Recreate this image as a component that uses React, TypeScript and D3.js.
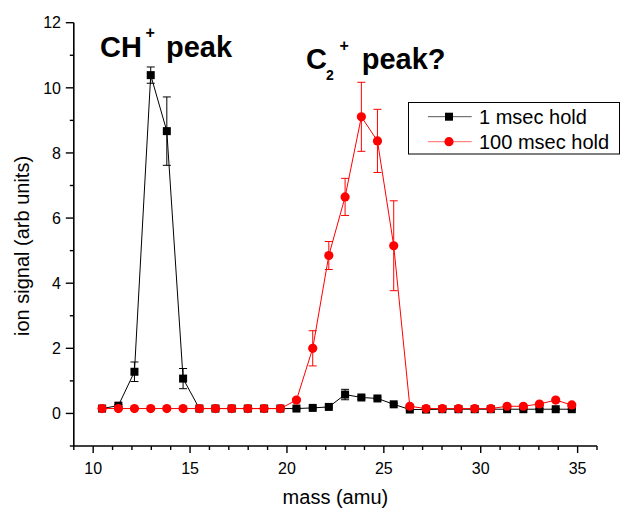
import React from "react";
import * as d3 from "d3";

const masses = [10.46, 11.30, 12.13, 12.97, 13.80, 14.64, 15.48, 16.31, 17.15, 17.98, 18.82, 19.66, 20.49, 21.33, 22.16, 23.00, 23.84, 24.67, 25.51, 26.34, 27.18, 28.02, 28.85, 29.69, 30.52, 31.36, 32.20, 33.03, 33.87, 34.70];
const hold1 = [0.15, 0.24, 1.28, 10.39, 8.67, 1.07, 0.15, 0.15, 0.15, 0.15, 0.15, 0.15, 0.15, 0.17, 0.20, 0.58, 0.49, 0.46, 0.28, 0.12, 0.12, 0.13, 0.13, 0.13, 0.13, 0.13, 0.13, 0.13, 0.13, 0.13];
const hold1Err = [0.02, 0.03, 0.30, 0.25, 1.05, 0.31, 0.02, 0.02, 0.02, 0.02, 0.02, 0.02, 0.02, 0.03, 0.03, 0.16, 0.05, 0.04, 0.03, 0.02, 0.02, 0.02, 0.02, 0.02, 0.02, 0.02, 0.02, 0.02, 0.02, 0.02];
const hold100 = [0.15, 0.15, 0.15, 0.15, 0.15, 0.15, 0.15, 0.15, 0.15, 0.15, 0.15, 0.15, 0.41, 2.00, 4.85, 6.65, 9.11, 8.37, 5.15, 0.22, 0.15, 0.15, 0.15, 0.15, 0.15, 0.22, 0.22, 0.29, 0.41, 0.26];
const hold100Err = [0.02, 0.02, 0.02, 0.02, 0.02, 0.02, 0.02, 0.02, 0.02, 0.02, 0.02, 0.02, 0.05, 0.54, 0.43, 0.57, 1.06, 0.97, 1.38, 0.04, 0.02, 0.02, 0.02, 0.02, 0.02, 0.03, 0.03, 0.04, 0.05, 0.04];
const xTicks = [10, 15, 20, 25, 30, 35];
const yTicks = [0, 2, 4, 6, 8, 10, 12];
const seriesNames = ["1 msec hold", "100 msec hold"];
const seriesColors = ["#000000", "#ff0000"];
const legendLineColors = ["#555555", "#ff6a6a"];

const W = 621, H = 511;
const FONT = "'Liberation Sans', Arial, sans-serif";

export default function App() {
  const x = d3.scaleLinear().domain([9, 36]).range([73.8, 597]);
  const y = d3.scaleLinear().domain([-1, 12]).range([446, 22.7]);
  const line = d3.line<[number, number]>().x(d => x(d[0])).y(d => y(d[1]));
  const s1 = masses.map((m, i) => [m, hold1[i]] as [number, number]);
  const s2 = masses.map((m, i) => [m, hold100[i]] as [number, number]);
  const minorX = d3.range(9, 37, 1);
  const minorY = d3.range(-1, 13, 1);
  const cap = 4;

  const errBars = (vals: number[], errs: number[], color: string) =>
    masses.map((m, i) => {
      const cx = x(m), t = y(vals[i] + errs[i]), b = y(vals[i] - errs[i]);
      return (
        <g key={i} stroke={color} strokeWidth={1}>
          <line x1={cx} x2={cx} y1={t} y2={b} />
          <line x1={cx - cap} x2={cx + cap} y1={t} y2={t} />
          <line x1={cx - cap} x2={cx + cap} y1={b} y2={b} />
        </g>
      );
    });

  return (
    <svg width={W} height={H} style={{ position: "absolute", left: 0, top: 0, background: "#fff" }} fontFamily={FONT}>
      <rect width={W} height={H} fill="#fff" />
      {/* series 1 */}
      <path d={line(s1) || ""} fill="none" stroke={seriesColors[0]} strokeWidth={1} />
      {errBars(hold1, hold1Err, seriesColors[0])}
      {s1.map((d, i) => (
        <rect key={i} x={x(d[0]) - 4} y={y(d[1]) - 4} width={8} height={8} fill={seriesColors[0]} />
      ))}
      {/* series 2 */}
      <path d={line(s2) || ""} fill="none" stroke={seriesColors[1]} strokeWidth={1} />
      {errBars(hold100, hold100Err, seriesColors[1])}
      {s2.map((d, i) => (
        <circle key={i} cx={x(d[0])} cy={y(d[1])} r={4.6} fill={seriesColors[1]} />
      ))}

      {/* axes */}
      <line x1={x(9)} x2={x(36)} y1={y(-1)} y2={y(-1)} stroke="#000" strokeWidth={1.6} />
      <line x1={x(9)} x2={x(9)} y1={y(-1)} y2={y(12)} stroke="#000" strokeWidth={1.6} />
      {minorX.map(v => (
        <line key={v} x1={x(v)} x2={x(v)} y1={y(-1)} y2={y(-1) + (v % 5 === 0 ? 7 : 4)} stroke="#000" strokeWidth={1.4} />
      ))}
      {minorY.map(v => (
        <line key={v} x1={x(9)} x2={x(9) - (v % 2 === 0 ? 8 : 4)} y1={y(v)} y2={y(v)} stroke="#000" strokeWidth={1.4} />
      ))}
      {xTicks.map(v => (
        <text key={v} x={x(v)} y={474} textAnchor="middle" fontSize={16}>{v}</text>
      ))}
      {yTicks.map(v => (
        <text key={v} x={61} y={y(v)} dy="0.36em" textAnchor="end" fontSize={16}>{v}</text>
      ))}
      <text x={(x(9) + x(36)) / 2} y={504} textAnchor="middle" fontSize={20}>mass (amu)</text>
      <text transform={`translate(29,246) rotate(-90)`} textAnchor="middle" fontSize={20}>ion signal (arb units)</text>

      {/* annotations */}
      <g fontWeight="bold" fill="#000">
        <text x={100} y={56.7} fontSize={29}>CH</text>
        <text x={145.5} y={38} fontSize={16}>+</text>
        <text x={166} y={56.7} fontSize={29}>peak</text>
        <text x={306} y={69.3} fontSize={29}>C</text>
        <text x={326} y={80} fontSize={14}>2</text>
        <text x={339.5} y={51} fontSize={16}>+</text>
        <text x={361.7} y={69.3} fontSize={29}>peak?</text>
      </g>

      {/* legend */}
      <rect x={408.5} y={102.5} width={211} height={51.5} fill="#fff" stroke="#000" strokeWidth={1} />
      {seriesNames.map((n, i) => {
        const cy = 116.7 + i * 25;
        return (
          <g key={n}>
            <line x1={428} x2={471.7} y1={cy} y2={cy} stroke={legendLineColors[i]} strokeWidth={1} />
            {i === 0 ? (
              <rect x={449 - 4} y={cy - 4} width={8} height={8} fill={seriesColors[i]} />
            ) : (
              <circle cx={449} cy={cy} r={4.6} fill={seriesColors[i]} />
            )}
            <text x={479} y={cy} dy="0.36em" fontSize={20}>{n}</text>
          </g>
        );
      })}
    </svg>
  );
}
